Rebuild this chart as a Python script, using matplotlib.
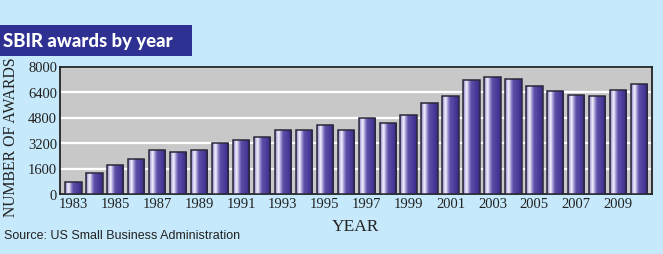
import matplotlib
matplotlib.use("Agg")
import matplotlib.pyplot as plt
import numpy as np
from matplotlib.colors import LinearSegmentedColormap
from matplotlib.patches import Rectangle

years = list(range(1983, 2011))
awards = [730, 1300, 1840, 2200, 2760, 2640, 2780, 3180, 3390, 3580,
          4020, 4020, 4330, 4020, 4770, 4480, 4980, 5690, 6170, 7170,
          7320, 7190, 6800, 6440, 6190, 6150, 6550, 6880]
tick_years = list(range(1983, 2010, 2))
yticks = [0, 1600, 3200, 4800, 6400, 8000]

bg = "#c6e9fb"
fig = plt.figure(figsize=(6.63, 2.55), dpi=100, facecolor=bg)

# Title box
fig.patches.append(Rectangle((0, 1 - 57/255), 192/663, 31/255, transform=fig.transFigure,
                             facecolor="#2e3192", edgecolor="none", zorder=0))
fig.text(3/663, 1 - 42/255, "SBIR awards by year", color="white", fontsize=13.3,
         fontweight="black", family="Lato", va="center", ha="left")

ax = fig.add_axes([60/663, 1 - 195/255, (651.7 - 60)/663, 127.5/255])
ax.set_facecolor("#c8c8c8")

x = np.arange(len(years))
bars = ax.bar(x, awards, width=0.78, facecolor="none", edgecolor="#2a2838",
              linewidth=1.1, zorder=4)

cmap = LinearSegmentedColormap.from_list("barg", [
    (0.0, "#6a5cae"), (0.1, "#c2b9e6"), (0.22, "#f6f3fd"), (0.34, "#a79bd6"),
    (0.48, "#5d4fa8"), (0.75, "#4a3c9a"), (1.0, "#392b87")])
grad = np.linspace(0, 1, 256).reshape(1, -1)
for b in bars:
    x0, w, h = b.get_x(), b.get_width(), b.get_height()
    im = ax.imshow(grad, extent=[x0, x0 + w, 0, h], aspect="auto", cmap=cmap,
                   zorder=3, interpolation="bilinear")
    im.set_clip_path(b)

ax.set_xlim(-0.64, len(years) - 1 + 0.6)
ax.set_ylim(0, 8000)
ax.set_yticks(yticks)
ax.set_yticklabels([str(v) for v in yticks], family="Liberation Serif", fontsize=10.5,
                   color="#222222")
ax.set_xticks([years.index(y) for y in tick_years])
ax.set_xticklabels([str(y) for y in tick_years], family="Liberation Serif", fontsize=10.5,
                   color="#222222")
ax.tick_params(length=0, pad=2)
ax.yaxis.grid(True, color="white", linewidth=1.6, zorder=1)
ax.set_axisbelow(True)
for s in ax.spines.values():
    s.set_color("#222222")
    s.set_linewidth(1.3)

fig.text(11/663, 1 - 137/255, "NUMBER OF AWARDS", rotation=90, family="Liberation Serif",
         fontsize=11.3, color="#222222", ha="center", va="center")
fig.text(355/663, 1 - 227/255, "YEAR", family="Liberation Serif", fontsize=12.5,
         color="#222222", ha="center", va="center")
fig.text(4/663, 1 - 236/255, "Source: US Small Business Administration",
         family="Liberation Sans", fontsize=9.0, color="#222222", ha="left", va="center")

fig.savefig("out.png", dpi=100, facecolor=bg)
